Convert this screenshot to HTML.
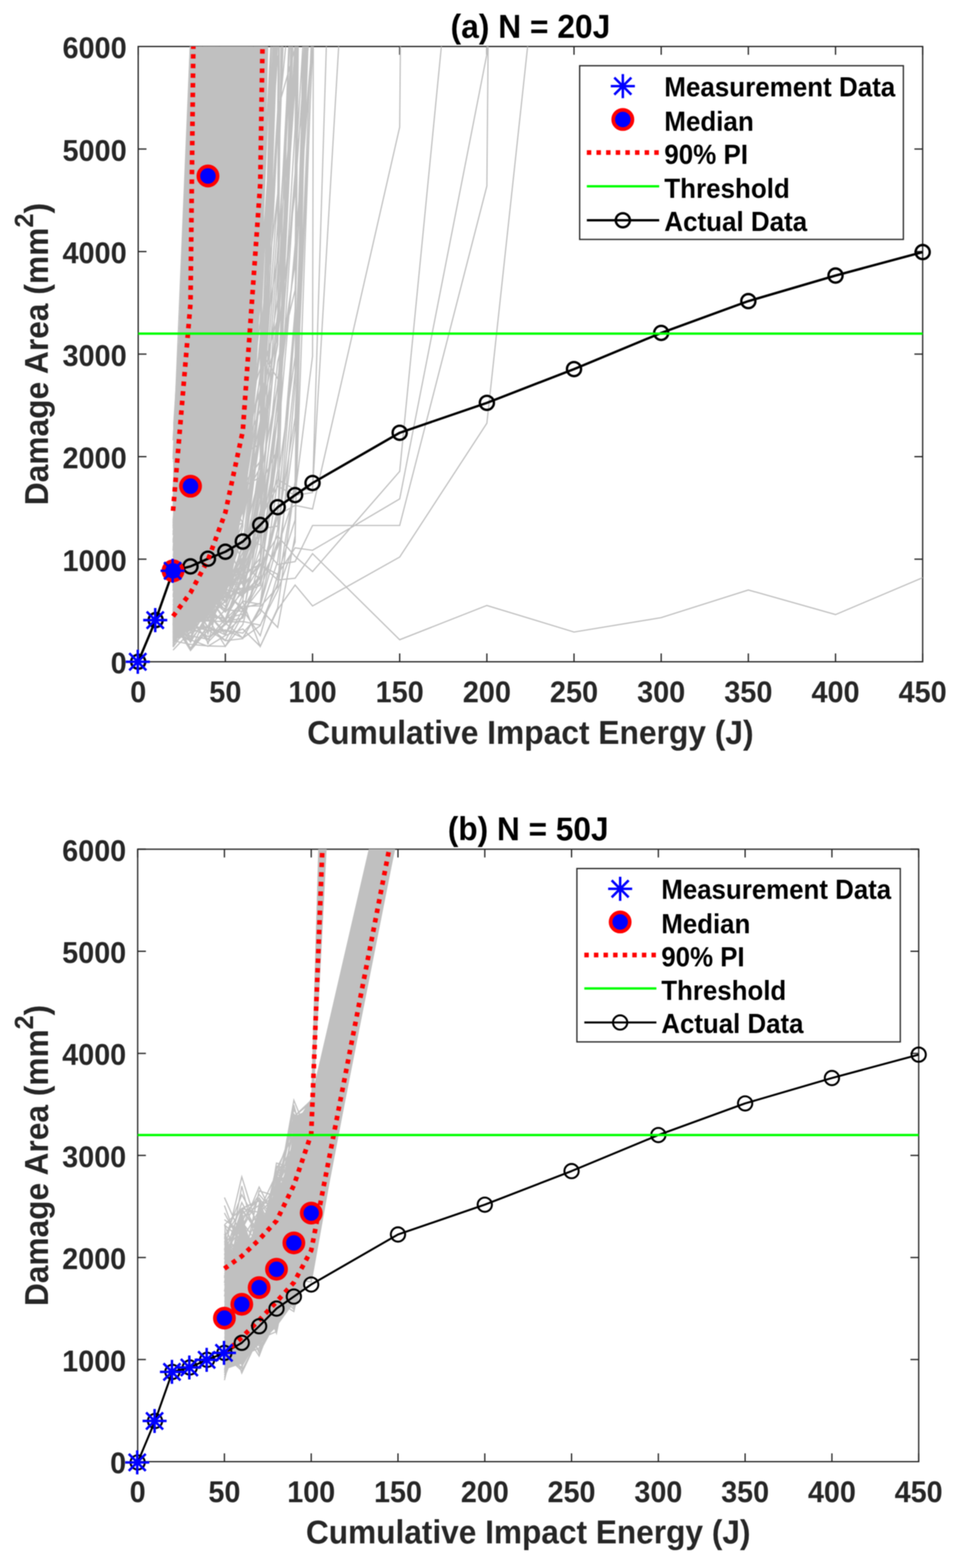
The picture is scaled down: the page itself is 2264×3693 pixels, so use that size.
<!DOCTYPE html>
<html lang="en">
<head>
<meta charset="utf-8">
<title>Damage Area vs Cumulative Impact Energy</title>
<style>
html,body{margin:0;padding:0;background:#fff;}
body{width:2264px;height:3693px;overflow:hidden;}
svg{display:block;filter:blur(1.15px);}
</style>
</head>
<body>
<svg width="2264" height="3693" viewBox="0 0 2264 3693" role="img" aria-label="Damage area versus cumulative impact energy, panels a and b">
<rect width="2264" height="3693" fill="#fff"/>
<clipPath id="clipA"><rect x="325.6" y="109.5" width="1848.1" height="1449.1"/></clipPath>
<rect x="325.6" y="109.5" width="1848.1" height="1449.1" fill="none" stroke="#262626" stroke-width="3"/>
<path d="M325.6 1558.6v-19.5M325.6 109.5v19.5M530.9 1558.6v-19.5M530.9 109.5v19.5M736.3 1558.6v-19.5M736.3 109.5v19.5M941.6 1558.6v-19.5M941.6 109.5v19.5M1147 1558.6v-19.5M1147 109.5v19.5M1352.3 1558.6v-19.5M1352.3 109.5v19.5M1557.7 1558.6v-19.5M1557.7 109.5v19.5M1763 1558.6v-19.5M1763 109.5v19.5M1968.4 1558.6v-19.5M1968.4 109.5v19.5M2173.7 1558.6v-19.5M2173.7 109.5v19.5M325.6 1558.6h19.5M2173.7 1558.6h-19.5M325.6 1317.1h19.5M2173.7 1317.1h-19.5M325.6 1075.6h19.5M2173.7 1075.6h-19.5M325.6 834h19.5M2173.7 834h-19.5M325.6 592.5h19.5M2173.7 592.5h-19.5M325.6 351h19.5M2173.7 351h-19.5M325.6 109.5h19.5M2173.7 109.5h-19.5" stroke="#262626" stroke-width="3" fill="none"/>
<g clip-path="url(#clipA)">
<path d="M408 1515L408 997L421 800L428.5 600L447 109.5L447 100L632 100L632 109.5L626 350L619 600L613 700L607 822L600 943L591 1065L574.8 1187L564 1239L558.8 1292L548.2 1345L532.4 1398L511.2 1419L490 1451L466 1464L447.7 1486L423.8 1494 Z" fill="#c0c0c0"/>
<path d="M407.7 1478.4L448.8 1289.1L489.9 1136.1L530.9 228.6L532.2 12.9M407.7 1461.9L448.8 1282L489.9 1089.1L530.9 543.2L534.7 12.9M407.7 1501.3L448.8 1266.3L489.9 1080.6L525.1 12.9M407.7 1411.1L448.8 1418.1L489.9 1315.5L530.9 1053.7L572 693L607.8 12.9M407.7 1407.3L448.8 1239.6L489.9 746.5L504.3 12.9M407.7 1341.9L448.8 1016.4L482.3 12.9M407.7 1406.1L448.8 1307.6L489.9 989.6L501.4 12.9M407.7 1459.2L448.8 1357.7L489.9 1397.2L530.9 1056.1L565.8 12.9M407.7 1327L448.8 1029.7L489.9 248.2L491.2 12.9M407.7 1271.8L448.8 933.7L474.2 12.9M407.7 1337L448.8 324.6L449.7 12.9M407.7 1278.5L448.8 1239L489.9 1292.6L530.9 1167.4L572 1230.9L613.1 935L654.2 794.1L695.2 453.2L726.8 12.9M407.7 1477.4L448.8 1385.1L489.9 1134.1L523 12.9M407.7 1467.3L448.8 1282.3L489.9 1194.6L530.9 189.6L531.6 12.9M407.7 1155.9L448.8 433.7L452.7 12.9M407.7 1481L448.8 1155.3L487.6 12.9M407.7 1474L448.8 1323.3L489.9 998.2L530.9 365.4L535.2 12.9M407.7 1519.6L448.8 1360.7L489.9 1093.1L530.6 12.9M407.7 1386.2L448.8 1305.7L489.9 1379.3L530.9 1247L572 1067L613.1 917.5L654.2 79M407.7 1463.2L448.8 1309.9L489.9 691.6L494.4 12.9M407.7 1393.7L448.8 1414.8L489.9 1332.3L530.9 1213.5L572 1113.1L613.1 808.3L654.2 457.2L670.3 12.9M407.7 1391.6L448.8 735.7L451.1 12.9M407.7 1382.8L448.8 1352.4L489.9 1262.3L530.9 1188.6L572 716.1L603.3 12.9M407.7 1269.6L448.8 1143L489.9 1098.6L530.9 19.5M407.7 1473L448.8 1317.9L489.9 1277.4L530.9 1075.6L572 57.2M407.7 1366.1L448.8 1222.2L489.3 12.9M407.7 1463L448.8 682.8L452.2 12.9M407.7 1419.7L448.8 1340.6L489.9 1324.2L530.9 1158.7L572 970.3L613.1 178.5L615 12.9M407.7 1459.2L448.8 1375.4L489.9 1150.5L530.9 240.1L532.2 12.9M407.7 1320.6L448.8 1048.3L474.2 12.9M407.7 1487.3L448.8 1475L489.9 1289.5L530.9 1302L572 1204.7L613.1 879.7L654.2 77M407.7 1498.2L448.8 1089.7L489.9 325.9L491.6 12.9M407.7 1443.3L448.8 1426.1L489.9 1426.3L530.9 1406.7L572 985L613.1 550.4L626.1 12.9M407.7 1314.4L448.8 1326.4L489.9 1330.5L530.9 1127.3L572 1061.7L613.1 966.3L654.2 704.6L691.7 12.9M407.7 1504.4L448.8 1329.4L489.9 1126.6L530.9 591L537.9 12.9M407.7 1506.4L448.8 1424.1L489.9 1387.8L530.9 1037.2L554 12.9M407.7 1387.9L448.8 1458.4L489.9 1311.7L530.9 1044.5L568.2 12.9M407.7 1509L448.8 1280.5L485.7 12.9M407.7 1477.7L448.8 1326.5L489.9 651.9L492.5 12.9M407.7 1399.4L448.8 1317.9L489.9 1113.9L530.9 1267.9L572 940.3L613.1 668.7L654.2 72.9M407.7 1474.2L448.8 1470.5L489.9 1218.3L530.9 557.9L536.7 12.9M407.7 1520.2L448.8 1276.9L489.9 1196.3L517.1 12.9M407.7 1476.3L448.8 1120.2L489.9 1008.9L530.9 760.3L550.7 12.9M407.7 1503L448.8 1339.1L489.9 1272.2L530.9 756.1L556.4 12.9M407.7 1375.6L448.8 1407L489.9 1458.7L530.9 1414.6L572 1300L613.1 1261.8L654.2 980.3L695.2 95.4M407.7 1321.7L448.8 1136.9L489.9 334.7L493 12.9M407.7 1176L448.8 841.9L475 12.9M407.7 1406.5L448.8 1360.8L489.9 1350.4L530.9 1153.3L572 1054.8L613.1 227.1L618 12.9M407.7 1491.6L448.8 1380.2L489.9 1378.5L530.9 1351.7L572 1150.9L613.1 814.8L654.2 297.6L658.4 12.9M407.7 1496.8L448.8 1221.6L489.9 931L530.9 236.2L532.6 12.9M407.7 1451.1L448.8 1467.8L489.9 976.6L502.4 12.9M407.7 1491.2L448.8 1119.1L489.9 274.2L491.1 12.9M407.7 1430.4L448.8 1331.6L489.9 1263.2L530.9 1229.6L572 833.6L602.9 12.9M407.7 1252.3L448.8 994.9L469.9 12.9M407.7 1504.3L448.8 1477.4L489.9 1324.7L530.9 1365.8L572 1334.8L613.1 1106.8L654.2 735.9L663.1 12.9M407.7 1459.7L448.8 1341.4L489.9 744.2L497 12.9M407.7 1462.1L448.8 1199.2L489.9 132.2L490.1 12.9M407.7 1079.2L448.8 795L466.1 12.9M407.7 1494.3L448.8 1310.9L489.9 1322.5L530.9 1167.3L572 799.6L583.7 12.9M407.7 1456.2L448.8 1414.8L489.9 1272.8L530.9 1330.6L572 1183.9L613.1 929.7L654.2 305.5L659.5 12.9M407.7 1483.3L448.8 1117.6L462.8 12.9M407.7 1515.3L448.8 1397.7L489.9 1301.7L530.9 1256.8L572 942.1L613.1 109.4M407.7 1286.6L448.8 1355L489.9 1256.6L530.9 938.2L572 800L613.1 52.6M407.7 1273.6L448.8 992.5L489.9 40.3M407.7 1383.2L448.8 1341.4L489.9 1409.9L530.9 1382L572 1300.6L613.1 1028.5L654.2 811.5L683.8 12.9M407.7 1485L448.8 1322.1L489.9 1211.9L530.9 812.1L543.8 12.9M407.7 1523.1L448.8 1284.8L487 12.9M407.7 1498.8L448.8 1457.4L489.9 1442.9L530.9 1376.9L572 1339.6L613.1 1144.1L654.2 1057.4L692.9 12.9M407.7 1240.4L448.8 331.8L449.5 12.9M407.7 1225.8L448.8 834.8L457.5 12.9M407.7 1348.1L448.8 1322.5L489.9 1094L530.9 958.9L572 313.2L575.7 12.9M407.7 1200.6L448.8 158.4L449.2 12.9M407.7 1492.4L448.8 1434.1L489.9 1251.8L530.9 480.6L533.3 12.9M407.7 1485.9L448.8 1417.5L489.9 1298.2L530.9 1169.1L561.7 12.9M407.7 1296.1L448.8 609.2L450.6 12.9M407.7 1391.8L448.8 1159.4L489.9 645.3L497.7 12.9M407.7 1075.7L448.8 1056.7L472.3 12.9M407.7 1403.5L448.8 1055.5L485.1 12.9M407.7 1486.7L448.8 1306.9L489.9 1258.3L530.9 1192.3L572 1018.9L613.1 487.6L624.3 12.9M407.7 1176.9L448.8 524.6L450.7 12.9M407.7 1331.5L448.8 553.5L451.8 12.9M407.7 1446.7L448.8 1309.7L489.9 1395.6L530.9 1238.6L572 1097.5L613.1 495L625.6 12.9M407.7 1351.7L448.8 1160.1L489.9 1216.8L530.9 1172.9L572 992.6L613.1 869L654.2 604.3L695.2 179.2L701.2 12.9M407.7 1433.8L448.8 1458L489.9 1258L530.9 1291.7L572 1068.3L613.1 1045.6L654.2 457.1L667.5 12.9M407.7 1522.6L448.8 1400.2L489.9 1126.8L513.8 12.9M407.7 1339.5L448.8 1366.5L489.9 1113L530.9 1020.5L572 739.5L612.9 12.9M407.7 1381.5L448.8 632.1L450.5 12.9M407.7 1196.5L448.8 1030.2L489.9 737.5L501.5 12.9M407.7 1232.2L448.8 635.9L450.4 12.9M407.7 1514.8L448.8 1292.5L489.9 707.2L497.8 12.9M407.7 1328.9L448.8 1294.1L489.9 1368.9L530.9 1241.5L572 1196.4L613.1 990.7L654.2 783.7L695.2 201.2L700 12.9M407.7 1510.6L448.8 1439.3L489.9 1449L530.9 1387.7L572 1399.9L613.1 1356.7L654.2 1063L690.5 12.9M407.7 1472.4L448.8 1505L489.9 1419.6L530.9 1372.6L572 1313.2L613.1 1251.6L654.2 946.2L695.2 609.1L702.7 12.9M407.7 1467L448.8 1330.5L489.9 1271.8L530.9 1152.3L572 530L580.7 12.9M407.7 1074.6L448.8 858.3L483.3 12.9M407.7 1081.8L448.8 320L450.6 12.9M407.7 1439.4L448.8 1239.7L489.9 1239.6L530.9 1101.8L572 889.1L605.2 12.9M407.7 1482L448.8 1402L489.9 1388.1L530.9 1159.4L572 165.9L572.7 12.9M407.7 1328L448.8 1074.1L489.9 739.8L502.5 12.9M407.7 1260.4L448.8 529.1L450.8 12.9M407.7 1310.9L448.8 1181.7L489.9 588.4L496.3 12.9M407.7 1421.9L448.8 1439.3L489.9 1418.4L530.9 1277L572 721.5L583.7 12.9M407.7 1474.9L448.8 1278.9L489.9 886.5L507.4 12.9M407.7 1457.4L448.8 1089.7L476.6 12.9M407.7 1477.4L448.8 1403L489.9 1374.3L530.9 1282.5L572 1146.4L613.1 1124.1L654.2 908.3L695.2 408.2L703.2 12.9M407.7 1489.7L448.8 1308L489.9 532.9L493.3 12.9M407.7 1080.3L448.8 95.8M407.7 1463.9L448.8 1291.7L489.9 637.5L498.1 12.9M407.7 1387.7L448.8 1357.8L489.9 1379.7L530.9 1220.8L572 645.8L586.9 12.9M407.7 1473.2L448.8 1345.2L489.9 605.5L496.7 12.9M407.7 1441.2L448.8 1319.3L489.9 1175.4L530.9 998.8L572 623.1L587.5 12.9M407.7 1472.7L448.8 1308.1L489.9 1274.4L530.9 944.4L571.5 12.9M407.7 1244.8L448.8 846.7L459.6 12.9M407.7 1306.5L448.8 1203.9L489.9 1224.4L530.9 1120.9L572 1110.4L613.1 889.8L654.2 750L695.2 103M407.7 1344.6L448.8 1224.1L489.9 1220.2L530.9 1042.3L572 803.2L609.4 12.9M407.7 1256.9L448.8 892.3L478.4 12.9M407.7 1426.4L448.8 1336.9L489.9 1272.3L530.9 1244.7L572 1020.4L613.1 190L614.9 12.9M407.7 1332.1L448.8 1197.9L489.9 1035.6L530.9 477L546.3 12.9M407.7 1328.2L448.8 1375.5L489.9 1105.2L530.9 817.9L563.6 12.9M407.7 1524.2L448.8 1465.7L489.9 1376.3L530.9 1330.1L572 692.3L581.4 12.9M407.7 1472.8L448.8 1382.4L489.9 1238.9L530.9 981L553.8 12.9M407.7 1490.5L448.8 1509.5L489.9 1260.6L530.9 768.7L549.9 12.9M407.7 1181.2L448.8 1026.7L478.1 12.9M407.7 1483.3L448.8 1280L489.9 1029L530.9 416.4L534.3 12.9M407.7 1350.2L448.8 1367.9L489.9 1299.8L530.9 1110.9L572 767.6L613.1 93.4M407.7 1476.7L448.8 1319.6L489.9 1102.9L504.6 12.9M407.7 1077.7L448.8 702.2L456.3 12.9M407.7 1407.2L448.8 1297.6L489.9 1140L530.9 1014.4L572 503L588 12.9M407.7 1457.3L448.8 1260.5L489.9 345.4L490.5 12.9M407.7 1474.4L448.8 1236.2L489.9 547.9L492.6 12.9M407.7 1087.3L448.8 1013.2L489.9 765.1L522.9 12.9M407.7 1278.1L448.8 842.7L458.1 12.9M407.7 1495.6L448.8 1360.7L489.9 1138.1L530.9 902.4L546.9 12.9M407.7 1441.6L448.8 1294L489.9 742.3L494.9 12.9M407.7 1462L448.8 1394.4L489.9 1290.5L530.9 681.7L534.8 12.9M407.7 1495.7L448.8 1110.9L462.5 12.9M407.7 1456.5L448.8 1442.8L489.9 1320.6L530.9 1243.6L572 861.6L612.3 12.9M407.7 1334.3L448.8 1031.2L489.9 314.6L493 12.9M407.7 1442.7L448.8 1458.7L489.9 1191.2L530.9 753.2L538.4 12.9M407.7 1481.2L448.8 1432.3L489.9 1339.3L530.9 469.6L533.7 12.9M407.7 1462.4L448.8 1363.3L489.9 1173.3L530.9 764.4L548 12.9M407.7 1437L448.8 1285.4L489.9 1197.9L530.9 968.3L572 619.7L587.8 12.9M407.7 1455.4L448.8 1450.3L489.9 1363.1L530.9 1332L572 1357.3L613.1 1245.8L654.2 851.7L695.2 683.3L728.9 12.9M407.7 1425.6L448.8 1246.1L489.9 408.4L491.3 12.9M407.7 1454.1L448.8 1324.6L489.9 525.6L491.9 12.9M407.7 1486L448.8 1335.2L489.9 790L497 12.9M407.7 1077.5L448.8 576.1L456.1 12.9M407.7 1442.6L448.8 1339.4L489.9 1323.7L530.9 1160.9L572 749.6L598.2 12.9M407.7 1460.7L448.8 1409.2L489.9 1249.1L530.9 1027.8L572 444.5L577.9 12.9M407.7 1469.2L448.8 1422.1L489.9 1297L530.9 1126.6L561.4 12.9M407.7 1297.7L448.8 1027.1L489.9 331.5L492.9 12.9M407.7 1487L448.8 1391.8L489.9 1259.1L530.9 1036.7L557.6 12.9M407.7 1037.1L448.8 395.3L452.1 12.9M407.7 1480.4L448.8 1332.2L489.9 1337.5L530.9 1183.6L572 729.3L587.1 12.9M407.7 1382.9L448.8 1283.7L489.9 1268.1L530.9 1180.7L572 1074.3L613.1 756.4L653 12.9M407.7 1434.3L448.8 1301.2L489.9 1237.2L530.9 1151.3L572 799.6L596.2 12.9M407.7 1472L448.8 121.8L448.9 12.9M407.7 1498.3L448.8 1406.7L489.9 1225.6L530.9 898.1L542 12.9M407.7 1483.6L448.8 1361.1L489.9 1306.6L530.9 1228.1L572 1179.8L613.1 1100.3L654.2 803.4L695.2 125L697.1 12.9M407.7 1416.5L448.8 1308.2L489.9 1195.1L530.9 1236.1L572 1003.1L613.1 463.7L624.4 12.9M407.7 1460L448.8 1365.2L489.9 1301.2L530.9 1026L552.2 12.9M407.7 1487.5L448.8 1234L489.9 158.2L490.3 12.9M407.7 1291.7L448.8 1243.4L489.9 1174L530.9 1019.7L572 809L613.1 330.7L622.1 12.9M407.7 1495.9L448.8 1190L489.4 12.9M407.7 1412.7L448.8 1338.8L489.9 1074.9L530.9 448.3L539 12.9M407.7 1328.9L448.8 1270.5L489.9 1338.3L530.9 1107.7L572 789.3L590.7 12.9M407.7 1382L448.8 1509.4L489.9 1370.7L530.9 1414.7L572 1333.5L613.1 1223.2L654.2 980L695.2 302.7L699.7 12.9M407.7 1462L448.8 1227.5L489.9 1236.7L530.9 562L539.3 12.9M407.7 1514L448.8 1438.1L489.9 1264.9L530.9 1234L572 1081.8L613.1 507.5L618.8 12.9M407.7 1488.5L448.8 1448.4L489.9 1007.1L528.5 12.9M407.7 1457.7L448.8 1481.7L489.9 1231.6L530.9 1033.3L560.1 12.9M407.7 1458.3L448.8 1160.7L489.9 1067L530.9 343.3L541.3 12.9M407.7 1462.7L448.8 1388.6L489.9 1297.7L530.9 1167.9L572 90.3M407.7 1378.8L448.8 1236.2L489.9 1074.2L530.9 83.5M407.7 1463.5L448.8 1369.4L489.9 935.1L512 12.9M407.7 1321.7L448.8 1146.3L489.9 543L498.2 12.9M407.7 1358L448.8 1268.3L489.9 805.8L508.9 12.9M407.7 1476L448.8 1236.8L489.9 921.6L503.8 12.9M407.7 1284.7L448.8 1262.2L489.9 1279.4L530.9 1086.8L572 1150.7L613.1 825.2L654.2 891.7L695.2 621.4L736.3 99.7M407.7 1236.2L448.8 1248.1L489.9 634L497.7 12.9M407.7 1500.3L448.8 1325.1L489.9 1140L530.9 974L561.2 12.9M407.7 1513.5L448.8 1380.2L489.9 1343.2L530.9 1306.3L572 588.4L576.9 12.9M407.7 1484.8L448.8 1324L483.3 12.9M407.7 1277L448.8 1120.7L489.9 147.1L490.5 12.9M407.7 1471.4L448.8 1351.1L489.9 1140.1L530.9 558.8L537.9 12.9M407.7 1260.9L448.8 1124.5L489.9 599.3L500.4 12.9M407.7 1480.5L448.8 1308.2L489.9 1002.5L503 12.9M407.7 1472.9L448.8 1408.3L489.9 1299.4L530.9 987.4L572 125.7L572.8 12.9M407.7 1201.7L448.8 786.4L454 12.9M407.7 1301.5L448.8 1262.6L489.9 943.5L530.9 864.7L572 735.1L594.2 12.9M407.7 1371.4L448.8 1343.4L489.9 1328.7L530.9 1256.7L572 1080.5L613.1 272.7L619.2 12.9M407.7 1497.1L448.8 1259.4L489.9 711.1L495 12.9M407.7 1467L448.8 1387L489.9 1204.2L530.9 797.4L543.7 12.9M407.7 1473L448.8 1297.2L489.9 837.5L529.6 12.9M407.7 1523.6L448.8 966.2L454.6 12.9M407.7 1053.2L448.8 1022.5L489.9 748.1L530.9 280.4L537.9 12.9M407.7 1361L448.8 1180.9L489.9 344L490.9 12.9M407.7 1451.2L448.8 1396.9L489.9 1479L530.9 1328.1L572 1019.4L613.1 927L654.2 261.6L657.2 12.9M407.7 1361.9L448.8 1362.5L489.9 1398.9L530.9 1177.6L572 1113.4L613.1 561.6L643.4 12.9M407.7 1361L448.8 1361.2L489.9 1216.7L530.9 922.8L572 510.9L613.1 118.3M407.7 1464.5L448.8 1463.9L489.9 1389L530.9 1429L572 1313.3L613.1 1123.2L615 12.9M407.7 1515.2L448.8 1463.1L489.9 1426.2L530.9 1433L572 1357.9L613.1 1079.4L640.5 12.9M407.7 1382.7L448.8 1375.8L489.9 1324.8L530.9 1310.1L572 1204.9L613.1 671.7L642.4 12.9M407.7 1460.1L448.8 1526.4L489.9 1475.3L530.9 1495.6L572 1414.5L613.1 1153.9L641.9 12.9M407.7 1512.8L448.8 1465.3L489.9 1462.2L530.9 1464.1L572 1348.4L613.1 1156.5L616.8 12.9M407.7 1506.6L448.8 1490.7L489.9 1475.3L530.9 1401.8L572 1240.4L613.1 128.5M407.7 1486.5L448.8 1469.1L489.9 1486.6L530.9 1386.8L572 1131.4L612.1 12.9M407.7 1423.4L448.8 1424.6L489.9 1476.2L530.9 1390.2L572 1134.7L609.9 12.9M407.7 1495.4L448.8 1439.7L489.9 1453.7L530.9 1416.3L572 1338.1L613.1 1015.5L645.9 12.9M407.7 1389.5L448.8 1364.2L489.9 1409.3L530.9 1179.4L572 906L613.1 447.5L616.3 12.9M407.7 1400.4L448.8 1407.3L489.9 1402.5L530.9 1390.7L572 1288.7L613.1 913.5L629.5 12.9M407.7 1446L448.8 1512.8L489.9 1445.8L530.9 1494.1L572 1401L613.1 1175.9L615.8 12.9M407.7 1441.4L448.8 1345.7L489.9 1344.4L530.9 1224.8L572 591.5L613.1 46.4M407.7 1515.3L448.8 1483L489.9 1430.8L530.9 1332.7L572 1094.1L613.1 28.2M407.7 1509.2L448.8 1517.6L489.9 1521.3L530.9 1522.4L572 1471L613.1 1315.3L648.1 12.9M407.7 1423.8L448.8 1445L489.9 1396.9L530.9 1465.6L572 1358L613.1 916L653.1 12.9M407.7 1402.4L448.8 1481L489.9 1475.3L530.9 1384.9L572 1323.5L613.1 927.8L647.9 12.9M407.7 1440.7L448.8 1531.2L489.9 1446.5L530.9 1488.5L572 1454L613.1 1218.7L654.1 12.9M407.7 1478.7L448.8 1406.3L489.9 1453.6L530.9 1456.5L572 1386.1L613.1 1212L654.2 757.4L658.5 12.9M407.7 1490.2L448.8 1497.7L489.9 1505.5L530.9 1457.2L572 1348.1L613.1 1249.4L654.2 47M407.7 1489.3L448.8 1506.9L489.9 1456.1L530.9 1522.4L572 1448.1L613.1 1256.6L648.6 12.9M407.7 1462.7L448.8 1442.1L489.9 1438.6L530.9 1392.6L572 1320.9L613.1 989.6L650 12.9M407.7 1422.3L448.8 1417.2L489.9 1392.6L530.9 1384.1L572 1313.6L613.1 1013.4L654.2 86.3M407.7 1376.9L448.8 1356.4L489.9 1385.6L530.9 1252.9L572 1231L613.1 702.4L654.2 130.6M407.7 1413.2L448.8 1448.8L489.9 1378.7L530.9 1333.4L572 1232.3L613.1 794.6L649.4 12.9M407.7 1356.1L448.8 1383.7L489.9 1375.4L530.9 1319.8L572 1143.7L613.1 1086.4L654.2 527.9L657.3 12.9M407.7 1421.9L448.8 1468.1L489.9 1400.9L530.9 1463.8L572 1456L613.1 1344.4L654.2 1108.3L691.9 12.9M407.7 1421.8L448.8 1440L489.9 1414.2L530.9 1371.6L572 1406.2L613.1 1294.2L654.2 937.1L693.2 12.9M407.7 1443.8L448.8 1417.7L489.9 1401.7L530.9 1369.5L572 1374L613.1 1257.1L654.2 1051.7L693.6 12.9M407.7 1473.4L448.8 1455.8L489.9 1512.4L530.9 1470.2L572 1415.7L613.1 1423.2L654.2 1246.5L687.7 12.9M407.7 1428.7L448.8 1415.1L489.9 1478.1L530.9 1436.1L572 1439.8L613.1 1387.9L654.2 1275.5L695.2 876.5L703.5 12.9M407.7 1414.5L448.8 1389.9L489.9 1401.3L530.9 1436.8L572 1339.4L613.1 1135.1L654.2 589.1L693.5 12.9M407.7 1367.4L448.8 1339.2L489.9 1383.7L530.9 1339.4L572 1229.8L613.1 1008.6L654.2 259.6L695.2 113.2M407.7 1446.5L448.8 1499.4L489.9 1432.9L530.9 1394.2L572 1436.6L613.1 1357.5L654.2 1201.2L695.2 768.9L700.6 12.9M407.7 1476.6L448.8 1483.7L489.9 1448.1L530.9 1456.6L572 1446.2L613.1 1368.7L654.2 973.9L695.2 130.7M407.7 1358.3L448.8 1403.1L489.9 1405.4L530.9 1406L572 1391.9L613.1 1235.5L654.2 640.1L687.3 12.9M407.7 1531.2L448.8 1487.5L489.9 1429.2L530.9 1471.3L572 1427.8L613.1 1426.9L654.2 1282.1L695.2 762.7L703.2 12.9M407.7 1459.3L448.8 1432.2L489.9 1404.4L530.9 1441.7L572 1393.7L613.1 1373.7L654.2 1037.9L683.5 12.9M407.7 1430.9L448.8 1471.5L489.9 1412.9L530.9 1396.1L572 1432.3L613.1 1421L654.2 1131.8L695.2 840.2L728 12.9M407.7 1512.4L448.8 1462.8L489.9 1505.7L530.9 1467.4L572 1502.8L613.1 1473.6L654.2 1374.6L695.2 909.1L729.3 12.9M407.7 1464.9L448.8 1531.7L489.9 1475.5L530.9 1508L572 1436.5L613.1 1497.1L654.2 1353.4L695.2 1224.7L736.3 91.6M407.7 1413.6L448.8 1385.6L489.9 1383.9L530.9 1387.9L572 1401.8L613.1 1359.3L654.2 1214.2L695.2 730.6L719.8 12.9M407.7 1461.3L448.8 1478.4L489.9 1499.1L530.9 1483.4L572 1502.2L613.1 1434.5L654.2 1477.6L695.2 1261.9L723.3 12.9M407.7 1390.5L448.8 1347.9L489.9 1356.6L530.9 1407.4L572 1326.5L613.1 1365.6L654.2 1289.4L695.2 1163.3L736.3 838.9L738.4 12.9M407.7 1465.7L448.8 1532L489.9 1483.7L530.9 1484.2L572 1491.3L613.1 1443.9L654.2 1322.3L695.2 1006.9L736.3 123.1M407.7 1423.5L448.8 1440.4L489.9 1437L530.9 1465.4L572 1463.7L613.1 1472.4L654.2 1391.2L695.2 1276.5L721.4 12.9M407.7 1307.6L448.8 1385.6L489.9 1378.6L530.9 1439.3L572 1338.9L613.1 1245.9L654.2 1238.9L695.2 983.8L736.3 32.7M407.7 1347.9L448.8 1365.6L489.9 1336.3L530.9 1419L572 1368.8L613.1 1202.7L654.2 904.1L695.2 407.4L736.3 14.5M407.7 1410.4L448.8 1392.9L489.9 1406.2L530.9 1395.8L572 1384.9L613.1 1322.4L654.2 1029.4L695.2 413.3L719.1 12.9M407.7 1470.3L448.8 1506.8L489.9 1522.2L530.9 1496.7L572 1481.5L613.1 1522.4L654.2 1431.8L695.2 1140.8L718.5 12.9M407.7 1330.3L448.8 1364.5L489.9 1397.2L530.9 1364.5L572 1362.8L613.1 1314.8L654.2 1040.3L695.2 578.4L736.3 89.7M407.7 1454L448.8 1477.6L489.9 1483.6L530.9 1509L572 1504.2L613.1 1429.1L654.2 1382.6L695.2 1134.4L714.9 12.9M407.7 1411.8L448.8 1392.2L489.9 1386.5L530.9 1417.3L572 1277.7L613.1 1113.1L654.2 302.8L682.5 12.9M407.7 1443L448.8 1402L489.9 1492.9L530.9 1335.1L572 1396.3L613.1 1378.5L654.2 1213.5L695.2 1190.2L736.3 1198.7L941.6 299.3L944.2 12.9M407.7 1330.2L448.8 1433.2L489.9 1356.2L530.9 1344L572 1402.1L613.1 1330.6L654.2 1262.4L695.2 1310.4L736.3 1346.1L941.6 1110.1L1049.3 12.9M407.7 1456.2L448.8 1428L489.9 1402.7L530.9 1254.3L572 1377.7L613.1 1330.8L654.2 1352.9L695.2 1290.2L736.3 1296.1L941.6 1175.1L1147 127.9L1148 12.9M407.7 1223.1L448.8 1351.7L489.9 1517.5L530.9 1348.3L572 1273L613.1 1282.3L654.2 1329.4L695.2 1322.6L736.3 1237.6L941.6 1237.6L1147 438.2L1150.8 12.9M407.7 1444.3L448.8 1409.9L489.9 1403.1L530.9 1459.2L572 1417.7L613.1 1522.6L654.2 1435.4L695.2 1377.8L736.3 1427.2L941.6 1312L1147 996.8L1253.5 12.9M407.7 1433.6L448.8 1309L489.9 1460.3L530.9 1354.5L572 1352.4L613.1 1328.4L654.2 1366L695.2 1361.9L736.3 1304L941.6 1506.7L1147 1426L1352.3 1488.6L1557.7 1454.7L1763 1389.5L1968.4 1447.5L2173.7 1360.6M407.7 1447.5L448.8 1327.5L489.9 1341.5L530.9 1215.2L572 1328.7L613.1 1221.6L654.2 1145.1L695.2 1166.8L736.3 1160.1L771.8 12.9M407.7 1465.5L448.8 1261.9L489.9 1443.6L530.9 1384.2L572 1262L613.1 1227.2L654.2 1129.4L695.2 1153.1L736.3 1152.9L803.6 12.9" fill="none" stroke="#c0c0c0" stroke-width="2.9" stroke-linejoin="miter"/>
</g>
<path d="M325.6 1558.6L366.7 1460.5L407.7 1344.4L448.8 1334L489.9 1315.9L530.9 1299.5L572 1275.5L613.1 1236.4L654.2 1194.6L695.2 1166.1L736.3 1137.6L941.6 1019.3L1147 948.8L1352.3 869.3L1557.7 784.1L1763 709.2L1968.4 649L2173.7 593.7" stroke="#000" stroke-width="5.6" fill="none" stroke-linejoin="round"/>
<g clip-path="url(#clipA)">
<path d="M407.7 1203.1L448.8 713.3L489.9 -3030.2" stroke="#ff0000" stroke-width="11" stroke-dasharray="10.5 12.2" fill="none"/>
<path d="M407.7 1451.4L448.8 1395.8L489.9 1319L530.9 1207.2L572 1015.2L613.1 433.1L654.2 -2064.2" stroke="#ff0000" stroke-width="11" stroke-dasharray="10.5 12.2" fill="none"/>
</g>
<circle cx="325.6" cy="1558.6" r="16.6" fill="none" stroke="#000" stroke-width="5.6"/>
<circle cx="366.7" cy="1460.5" r="16.6" fill="none" stroke="#000" stroke-width="5.6"/>
<circle cx="407.7" cy="1344.4" r="16.6" fill="none" stroke="#000" stroke-width="5.6"/>
<circle cx="448.8" cy="1334" r="16.6" fill="none" stroke="#000" stroke-width="5.6"/>
<circle cx="489.9" cy="1315.9" r="16.6" fill="none" stroke="#000" stroke-width="5.6"/>
<circle cx="530.9" cy="1299.5" r="16.6" fill="none" stroke="#000" stroke-width="5.6"/>
<circle cx="572" cy="1275.5" r="16.6" fill="none" stroke="#000" stroke-width="5.6"/>
<circle cx="613.1" cy="1236.4" r="16.6" fill="none" stroke="#000" stroke-width="5.6"/>
<circle cx="654.2" cy="1194.6" r="16.6" fill="none" stroke="#000" stroke-width="5.6"/>
<circle cx="695.2" cy="1166.1" r="16.6" fill="none" stroke="#000" stroke-width="5.6"/>
<circle cx="736.3" cy="1137.6" r="16.6" fill="none" stroke="#000" stroke-width="5.6"/>
<circle cx="941.6" cy="1019.3" r="16.6" fill="none" stroke="#000" stroke-width="5.6"/>
<circle cx="1147" cy="948.8" r="16.6" fill="none" stroke="#000" stroke-width="5.6"/>
<circle cx="1352.3" cy="869.3" r="16.6" fill="none" stroke="#000" stroke-width="5.6"/>
<circle cx="1557.7" cy="784.1" r="16.6" fill="none" stroke="#000" stroke-width="5.6"/>
<circle cx="1763" cy="709.2" r="16.6" fill="none" stroke="#000" stroke-width="5.6"/>
<circle cx="1968.4" cy="649" r="16.6" fill="none" stroke="#000" stroke-width="5.6"/>
<circle cx="2173.7" cy="593.7" r="16.6" fill="none" stroke="#000" stroke-width="5.6"/>
<path d="M325.6 785.7H2173.7" stroke="#00ff00" stroke-width="5.5"/>
<circle cx="407.7" cy="1344.4" r="22.6" fill="#0000ff" stroke="#ff0000" stroke-width="8.7"/>
<circle cx="448.8" cy="1145.1" r="22.6" fill="#0000ff" stroke="#ff0000" stroke-width="8.7"/>
<circle cx="489.9" cy="414.5" r="22.6" fill="#0000ff" stroke="#ff0000" stroke-width="8.7"/>
<path d="M296.2 1558.6L353 1558.6M304.5 1538.5L344.7 1578.7M324.6 1530.2L324.6 1587M344.7 1538.5L304.5 1578.7" stroke="#0000ff" stroke-width="5.8" fill="none"/>
<path d="M337.3 1460.5L394.1 1460.5M345.6 1440.5L385.8 1480.6M365.7 1432.1L365.7 1488.9M385.8 1440.5L345.6 1480.6" stroke="#0000ff" stroke-width="5.8" fill="none"/>
<path d="M378.3 1344.4L435.1 1344.4M386.7 1324.3L426.8 1364.5M406.7 1316L406.7 1372.8M426.8 1324.3L386.7 1364.5" stroke="#0000ff" stroke-width="5.8" fill="none"/>
<g font-family='"Liberation Sans", "DejaVu Sans", sans-serif' font-weight="bold" fill="#262626">
<text transform="translate(325.6 1654.2) scale(1 1.03)" font-size="68" text-anchor="middle">0</text>
<text transform="translate(530.9 1654.2) scale(1 1.03)" font-size="68" text-anchor="middle">50</text>
<text transform="translate(736.3 1654.2) scale(1 1.03)" font-size="68" text-anchor="middle">100</text>
<text transform="translate(941.6 1654.2) scale(1 1.03)" font-size="68" text-anchor="middle">150</text>
<text transform="translate(1147 1654.2) scale(1 1.03)" font-size="68" text-anchor="middle">200</text>
<text transform="translate(1352.3 1654.2) scale(1 1.03)" font-size="68" text-anchor="middle">250</text>
<text transform="translate(1557.7 1654.2) scale(1 1.03)" font-size="68" text-anchor="middle">300</text>
<text transform="translate(1763 1654.2) scale(1 1.03)" font-size="68" text-anchor="middle">350</text>
<text transform="translate(1968.4 1654.2) scale(1 1.03)" font-size="68" text-anchor="middle">400</text>
<text transform="translate(2173.7 1654.2) scale(1 1.03)" font-size="68" text-anchor="middle">450</text>
<text transform="translate(298.5 1586.1) scale(1 1.03)" font-size="68" text-anchor="end">0</text>
<text transform="translate(298.5 1344.6) scale(1 1.03)" font-size="68" text-anchor="end">1000</text>
<text transform="translate(298.5 1103.1) scale(1 1.03)" font-size="68" text-anchor="end">2000</text>
<text transform="translate(298.5 861.5) scale(1 1.03)" font-size="68" text-anchor="end">3000</text>
<text transform="translate(298.5 620) scale(1 1.03)" font-size="68" text-anchor="end">4000</text>
<text transform="translate(298.5 378.5) scale(1 1.03)" font-size="68" text-anchor="end">5000</text>
<text transform="translate(298.5 137) scale(1 1.03)" font-size="68" text-anchor="end">6000</text>
<text transform="translate(1249.6 1752.1) scale(1 1.05)" font-size="74.8" text-anchor="middle">Cumulative Impact Energy (J)</text>
<text transform="translate(113 834) rotate(-90) scale(1 1.05)" font-size="74.8" text-anchor="middle">Damage Area (mm<tspan font-size="59.8" dy="-33.7">2</tspan><tspan dy="33.7">)</tspan></text>
<text transform="translate(1249.6 88.5) scale(1 1.05)" font-size="74.8" text-anchor="middle" fill="#000">(a) N = 20J</text>
</g>
<rect x="1365.6" y="154.8" width="762.6" height="409.1" fill="#fff" stroke="#262626" stroke-width="3"/>
<path d="M1438.9 202.8L1495.7 202.8M1447.2 182.7L1487.4 222.9M1467.3 174.4L1467.3 231.2M1487.4 182.7L1447.2 222.9" stroke="#0000ff" stroke-width="5.8" fill="none"/>
<circle cx="1467.3" cy="281.4" r="22.6" fill="#0000ff" stroke="#ff0000" stroke-width="8.7"/>
<path d="M1382.5 359.2H1553" stroke="#ff0000" stroke-width="11" stroke-dasharray="10.5 12.2"/>
<path d="M1382.5 438.7H1553" stroke="#00ff00" stroke-width="5.5"/>
<path d="M1382.5 518.8H1553" stroke="#000" stroke-width="5.6"/>
<circle cx="1467.3" cy="518.8" r="16.6" fill="none" stroke="#000" stroke-width="5.6"/>
<g font-family='"Liberation Sans", "DejaVu Sans", sans-serif' font-weight="bold" fill="#000" font-size="61.2">
<text transform="translate(1565 226.8) scale(1 1.05)">Measurement Data</text>
<text transform="translate(1565 307.9) scale(1 1.05)">Median</text>
<text transform="translate(1565 386.1) scale(1 1.05)">90% PI</text>
<text transform="translate(1565 465.6) scale(1 1.05)">Threshold</text>
<text transform="translate(1565 543.7) scale(1 1.05)">Actual Data</text>
</g>
<clipPath id="clipB"><rect x="324.3" y="2000.1" width="1840" height="1442.4"/></clipPath>
<rect x="324.3" y="2000.1" width="1840" height="1442.4" fill="none" stroke="#262626" stroke-width="3"/>
<path d="M324.3 3442.5v-19.4M324.3 2000.1v19.4M528.7 3442.5v-19.4M528.7 2000.1v19.4M733.2 3442.5v-19.4M733.2 2000.1v19.4M937.6 3442.5v-19.4M937.6 2000.1v19.4M1142.1 3442.5v-19.4M1142.1 2000.1v19.4M1346.5 3442.5v-19.4M1346.5 2000.1v19.4M1551 3442.5v-19.4M1551 2000.1v19.4M1755.4 3442.5v-19.4M1755.4 2000.1v19.4M1959.9 3442.5v-19.4M1959.9 2000.1v19.4M2164.3 3442.5v-19.4M2164.3 2000.1v19.4M324.3 3442.5h19.4M2164.3 3442.5h-19.4M324.3 3202.1h19.4M2164.3 3202.1h-19.4M324.3 2961.7h19.4M2164.3 2961.7h-19.4M324.3 2721.3h19.4M2164.3 2721.3h-19.4M324.3 2480.9h19.4M2164.3 2480.9h-19.4M324.3 2240.5h19.4M2164.3 2240.5h-19.4M324.3 2000.1h19.4M2164.3 2000.1h-19.4" stroke="#262626" stroke-width="3" fill="none"/>
<g clip-path="url(#clipB)">
<path d="M528.7 2884.8L536.9 2925.6L549.2 2959.3L561.5 2911.2L569.6 2846.3L577.8 2887.2L590.1 2923.2L602.3 2875.2L610.5 2827.1L620.7 2858.3L631 2880L643.2 2815.1L651.4 2764.6L671.9 2803L684.1 2716.5L692.3 2629.9L712.7 2620.3L733.2 2586.7L937.6 1700.8L937.6 1965L733.2 2997.8L692.3 3068.7L651.4 3125.2L610.5 3166L569.6 3211.7L528.7 3226.1 Z" fill="#c0c0c0"/>
<path d="M733.2 2702.1L733.2 2577.1L937.6 -4610.9L937.6 -1245.3 Z" fill="#c0c0c0"/>
<path d="M528.7 2820.3L569.6 2912.4L610.5 2942.1L651.4 2856.8L692.3 2678.5L733.2 2635.9L937.6 1907.2M528.7 2839.2L569.6 2949.5L610.5 2975.8L651.4 2864.2L692.3 2719.2L733.2 2731.3L937.6 1824.2M528.7 2856.7L569.6 2933.1L610.5 2946.2L651.4 2870L692.3 2780.1L733.2 2667.3L937.6 1918.1M528.7 2872.6L569.6 2902.4L610.5 2940.1L651.4 2896.4L692.3 2762.7L733.2 2629.7L937.6 1806.5M528.7 3250.7L569.6 3087L610.5 3110.6L651.4 3105.3L692.3 2951L733.2 2903.5L937.6 1923.5M528.7 3244.5L569.6 3139.3L610.5 3124.6L651.4 3078L692.3 2983.6L733.2 2856.8L937.6 1912.9M528.7 3238.8L569.6 3141.3L610.5 3132.8L651.4 3090.4L692.3 2974.2L733.2 2976.2L937.6 1898.7M528.7 3233.6L569.6 3100.7L610.5 3070.2L651.4 3023.5L692.3 2997.6L733.2 2886.5L937.6 1860.8M528.7 3229.2L569.6 3142.6L610.5 3151.3L651.4 3084.7L692.3 2897.9L733.2 2954L937.6 1846.8M528.7 2944.5L569.6 2771.8L610.5 2902.8L651.4 2917.7L692.3 2815.3L733.2 2743.6L937.6 1930.4M528.7 3021.6L569.6 2793.5L610.5 2955.4L651.4 2796.4L692.3 2713.7L733.2 2690.8L937.6 1894.9M528.7 2918.2L569.6 2813.9L610.5 2886.1L651.4 2861L692.3 2687L733.2 2659.3L937.6 1754.3M528.7 2956.2L569.6 2832.2L610.5 2908.4L651.4 2899.9L692.3 2795.4L733.2 2662.3L937.6 1741.7M528.7 3108.9L569.6 3233.8L610.5 3147.7L651.4 3051L692.3 2905.2L733.2 2868L937.6 1882M528.7 3191L569.6 3228.3L610.5 3149.8L651.4 2995.7L692.3 2953.2L733.2 2967.5L937.6 1955.2M528.7 3192.2L569.6 3223.1L610.5 3075.4L651.4 3052.3L692.3 3014.1L733.2 2888.9L937.6 1885.5M528.7 3210.2L569.6 3218.4L610.5 3148.6L651.4 2986.5L692.3 2969.7L733.2 2860.3L937.6 1917.1M528.7 3129.5L569.6 3214.4L610.5 3115.4L651.4 3109.1L692.3 2915.8L733.2 2944.7L937.6 1935.5M528.7 2948.2L569.6 2893.9L610.5 2795.8L651.4 2877.6L692.3 2706.2L733.2 2752.8L937.6 1861.2M528.7 2924.6L569.6 2989.4L610.5 2804.9L651.4 2817.4L692.3 2665.4L733.2 2717.5L937.6 1900M528.7 2931L569.6 2876.7L610.5 2813.5L651.4 2860.7L692.3 2779.5L733.2 2645.6L937.6 1932.1M528.7 3010.4L569.6 2895.2L610.5 2821.2L651.4 2883.7L692.3 2780.8L733.2 2707.8L937.6 1931.3M528.7 3110.7L569.6 3130.2L610.5 3193.9L651.4 3086.3L692.3 2899L733.2 2873.7L937.6 1793M528.7 3128.4L569.6 3087.7L610.5 3186.9L651.4 3110.3L692.3 2936.1L733.2 2942.6L937.6 1935.9M528.7 3092.5L569.6 3134.6L610.5 3180.4L651.4 3107.8L692.3 2980.1L733.2 2980L937.6 1883.7M528.7 3210.4L569.6 3193.8L610.5 3174.5L651.4 3107.6L692.3 3029.3L733.2 2922.3L937.6 1858.9M528.7 3138.8L569.6 3152.6L610.5 3169.5L651.4 3096.4L692.3 3014L733.2 2866.3L937.6 1923.8M528.7 3006.9L569.6 2944.2L610.5 2979.5L651.4 2739.3L692.3 2750.4L733.2 2749.2L937.6 1780M528.7 2963.4L569.6 2914.3L610.5 2929.3L651.4 2746.7L692.3 2754.1L733.2 2716.9L937.6 1923M528.7 3008.8L569.6 2897.6L610.5 2945.6L651.4 2753.6L692.3 2671.3L733.2 2731.8L937.6 1800.1M528.7 2964.8L569.6 2925.8L610.5 2974.2L651.4 2759.8L692.3 2826.7L733.2 2736.2L937.6 1938.7M528.7 3181.1L569.6 3067.2L610.5 3034.2L651.4 3139.8L692.3 2937.3L733.2 2892L937.6 1809.5M528.7 3196.9L569.6 3089.4L610.5 3153.8L651.4 3136.1L692.3 2947.2L733.2 2920.8L937.6 1881M528.7 3118.1L569.6 3188.7L610.5 3093.8L651.4 3132.7L692.3 2905.3L733.2 2955.6L937.6 1801M528.7 3174.5L569.6 3196.5L610.5 3067.2L651.4 3129.6L692.3 2937.3L733.2 2916L937.6 1888.8M528.7 3181.6L569.6 3079.3L610.5 3073.1L651.4 3127L692.3 2910.6L733.2 2951L937.6 1808.5M528.7 2972.7L569.6 2931.9L610.5 2964.8L651.4 2822.4L692.3 2591.5L733.2 2691.9L937.6 1936.2M528.7 2959.4L569.6 2942.5L610.5 2892.7L651.4 2818.5L692.3 2602.7L733.2 2761.3L937.6 1827.2M528.7 2954L569.6 2935.3L610.5 2907.8L651.4 2807.8L692.3 2613.2L733.2 2691.7L937.6 1932.7M528.7 2982.4L569.6 2996.6L610.5 2961.9L651.4 2926.6L692.3 2622.7L733.2 2740.9L937.6 1828.6M528.7 3112.4L569.6 3136.8L610.5 3044.4L651.4 3063.8L692.3 3088.9L733.2 2904.3L937.6 1915.3M528.7 3097.7L569.6 3097.5L610.5 3140.5L651.4 3044.3L692.3 3083.8L733.2 2982.1L937.6 1830.5M528.7 3214.2L569.6 3100.7L610.5 3085.4L651.4 3017.7L692.3 3079.1L733.2 2844.6L937.6 1860.5M528.7 3212.7L569.6 3127.6L610.5 3105.2L651.4 2983.2L692.3 3074.8L733.2 2968.3L937.6 1942.3M528.7 3194.3L569.6 3103.6L610.5 3089.2L651.4 3044.7L692.3 3071.2L733.2 2988.6L937.6 1783.9M528.7 2932L569.6 2931.2L610.5 2954.3L651.4 2800.7L692.3 2756.7L733.2 2678.7L937.6 1881M528.7 2993.6L569.6 2955.9L610.5 2976.7L651.4 2836.4L692.3 2799L733.2 2681.2L937.6 1801M528.7 3000.5L569.6 2970.2L610.5 2882.3L651.4 2873.6L692.3 2802L733.2 2634.5L937.6 1760.2M528.7 3000.5L569.6 2957.7L610.5 2853.6L651.4 2867L692.3 2708L733.2 2710.6L937.6 1796.4M528.7 3157L569.6 3192.7L610.5 3112.4L651.4 3050.7L692.3 3012.6L733.2 3019.4L937.6 1874.9M528.7 3150.8L569.6 3110.9L610.5 3063.3L651.4 3017.9L692.3 2989.2L733.2 3013.9L937.6 1898.6M528.7 3123.6L569.6 3066.4L610.5 3040.1L651.4 3042.7L692.3 3009L733.2 3008.9L937.6 1869M528.7 3175L569.6 3141.2L610.5 3148.7L651.4 3078L692.3 3035.7L733.2 3004.3L937.6 1935.7M528.7 3215.6L569.6 3101.5L610.5 3113.6L651.4 3048.6L692.3 3049.7L733.2 3000.4L937.6 1854.9M528.7 2941.3L569.6 2877L610.5 2933.1L651.4 2764.6L692.3 2889.1L733.2 2641.7L937.6 1952.8M528.7 2974L569.6 2976.5L610.5 2927.3L651.4 2905.5L692.3 2634.7L733.2 2611.7L937.6 1956.9M528.7 3006L569.6 2925.1L610.5 2924.1L651.4 2766L692.3 2742.3L733.2 2660.8L937.6 1959.2M528.7 3041.6L569.6 3056L610.5 2927.7L651.4 2988.9L692.3 2801.1L733.2 2911.9L937.6 1788.5M528.7 3053.3L569.6 2859.7L610.5 2827.1L651.4 2934.1L692.3 2698L733.2 2736.3L937.6 1923.3M528.7 3020.1L569.6 2941.9L610.5 2923.2L651.4 2764.6L692.3 2722.3L733.2 2660.8L937.6 1902.5M528.7 2884.8L569.6 2846.3L610.5 2910.6L651.4 2797.4L692.3 2629.9L733.2 2640.7L937.6 1823.5M528.7 2884.8L569.6 2919.7L610.5 2851.6L651.4 2764.6L692.3 2650L733.2 2624.4L937.6 1829.8M528.7 3104.7L569.6 3202.6L610.5 3042.4L651.4 3011.5L692.3 2903.7L733.2 2882.3L937.6 1964.3M528.7 3129.3L569.6 3038.5L610.5 2925.2L651.4 3015.6L692.3 2927.8L733.2 2741.9L937.6 1745.4M528.7 3002.3L569.6 3050.7L610.5 2853.9L651.4 2789L692.3 2751.2L733.2 2591.5L937.6 1964.9M528.7 3103L569.6 2994.8L610.5 3080.2L651.4 2995.6L692.3 2712.6L733.2 2807.1L937.6 1838.1M528.7 2974.2L569.6 3004.6L610.5 2912.9L651.4 2927.1L692.3 2881.8L733.2 2747.4L937.6 1777.5M528.7 2884.8L569.6 2985.5L610.5 2910.6L651.4 2878.3L692.3 2697L733.2 2712.1L937.6 1905.9M528.7 2979.4L569.6 3155.2L610.5 2949.7L651.4 2921.5L692.3 2714.7L733.2 2778.6L937.6 1831.9M528.7 3064.2L569.6 3079.4L610.5 3049.5L651.4 2926.6L692.3 2832.2L733.2 2861.1L937.6 1756.2M528.7 3024.5L569.6 3087.8L610.5 2956.3L651.4 2986.6L692.3 2925.7L733.2 2727.1L937.6 1840.3M528.7 3067L569.6 3062.8L610.5 3053.2L651.4 2962.1L692.3 2689.8L733.2 2713.1L937.6 1916.6M528.7 3226.1L569.6 3085.3L610.5 3166L651.4 3077.9L692.3 3044.1L733.2 2997.8L937.6 1809.4M528.7 2914.5L569.6 2846.3L610.5 2828.4L651.4 2841.4L692.3 2713.6L733.2 2710.6L937.6 1903.6M528.7 2922L569.6 2962.8L610.5 2982.7L651.4 2861.8L692.3 2802.5L733.2 2591.5L937.6 1739.7M528.7 3096.3L569.6 2910L610.5 2923.3L651.4 2877.5L692.3 2836.9L733.2 2781.6L937.6 1847.6M528.7 2953L569.6 2914.7L610.5 2928.2L651.4 2764.6L692.3 2698.4L733.2 2591.5L937.6 1868.4M528.7 3089.8L569.6 3101.2L610.5 2888.8L651.4 3027.9L692.3 2947.3L733.2 2820.2L937.6 1797.2M528.7 3206.5L569.6 3146.4L610.5 3022.4L651.4 3121.2L692.3 2962.2L733.2 2878.2L937.6 1908.9M528.7 3094.5L569.6 3134.3L610.5 3128.3L651.4 3012L692.3 2996.9L733.2 2921.6L937.6 1917M528.7 3113.5L569.6 3069.7L610.5 2982.1L651.4 3094.9L692.3 2969.6L733.2 2953.6L937.6 1959.3M528.7 3088.4L569.6 3134L610.5 3078.1L651.4 3125.2L692.3 2984.2L733.2 2938.1L937.6 1952.1M528.7 3155.6L569.6 3147.3L610.5 3166L651.4 3020L692.3 3066.7L733.2 2882.4L937.6 1963.8M528.7 2939.5L569.6 2965.1L610.5 2990L651.4 3004.6L692.3 2756.2L733.2 2881.6L937.6 1844.2M528.7 3088.2L569.6 2967.6L610.5 2942.4L651.4 2790.6L692.3 2889.2L733.2 2734.8L937.6 1931.6M528.7 2965.5L569.6 2851.1L610.5 2899.6L651.4 2787.4L692.3 2791.3L733.2 2680.1L937.6 1843.5M528.7 3079.5L569.6 2956.7L610.5 2948.8L651.4 2821.5L692.3 2706.2L733.2 2646.5L937.6 1920.1M528.7 2961.3L569.6 2943.7L610.5 2947.3L651.4 2764.6L692.3 2794.4L733.2 2790.9L937.6 1758.1M528.7 2974.3L569.6 2938L610.5 3035.9L651.4 2792.9L692.3 2779.6L733.2 2715.5L937.6 1936.7M528.7 3041.4L569.6 2846.3L610.5 2827.1L651.4 2892.9L692.3 2629.9L733.2 2596.5L937.6 1853.7M528.7 2906.3L569.6 3009.9L610.5 2858.5L651.4 2935.3L692.3 2673.7L733.2 2738.1L937.6 1948.5M528.7 2989L569.6 2846.3L610.5 2855.3L651.4 2818L692.3 2790.1L733.2 2701.6L937.6 1883.5M528.7 2966.2L569.6 2867.1L610.5 2838.5L651.4 2818.4L692.3 2629.9L733.2 2591.5L937.6 1800.6M528.7 3099.2L569.6 3211.7L610.5 3125.4L651.4 2996.9L692.3 2945.6L733.2 2843.8L937.6 1762.6" fill="none" stroke="#c0c0c0" stroke-width="2.9" stroke-linejoin="miter"/>
</g>
<path d="M324.3 3444.3L365.2 3346.7L406.1 3231.1L447 3220.7L487.9 3202.7L528.7 3186.4L569.6 3162.6L610.5 3123.6L651.4 3082L692.3 3053.7L733.2 3025.3L937.6 2907.5L1142.1 2837.3L1346.5 2758.2L1551 2673.3L1755.4 2598.8L1959.9 2539L2164.3 2483.9" stroke="#000" stroke-width="4.7" fill="none" stroke-linejoin="round"/>
<g clip-path="url(#clipB)">
<path d="M528.7 2987.9L569.6 2958.6L610.5 2919.6L651.4 2875.2L692.3 2791.7L733.2 2671.1L937.6 -2567.5" stroke="#ff0000" stroke-width="11" stroke-dasharray="10.5 12.1" fill="none"/>
<path d="M528.7 3188.4L569.6 3149.9L610.5 3109.3L651.4 3066L692.3 3020.6L733.2 2944.9L937.6 1893.6" stroke="#ff0000" stroke-width="11" stroke-dasharray="10.5 12.1" fill="none"/>
</g>
<circle cx="324.3" cy="3444.3" r="16.8" fill="none" stroke="#000" stroke-width="4.7"/>
<circle cx="365.2" cy="3346.7" r="16.8" fill="none" stroke="#000" stroke-width="4.7"/>
<circle cx="406.1" cy="3231.1" r="16.8" fill="none" stroke="#000" stroke-width="4.7"/>
<circle cx="447" cy="3220.7" r="16.8" fill="none" stroke="#000" stroke-width="4.7"/>
<circle cx="487.9" cy="3202.7" r="16.8" fill="none" stroke="#000" stroke-width="4.7"/>
<circle cx="528.7" cy="3186.4" r="16.8" fill="none" stroke="#000" stroke-width="4.7"/>
<circle cx="569.6" cy="3162.6" r="16.8" fill="none" stroke="#000" stroke-width="4.7"/>
<circle cx="610.5" cy="3123.6" r="16.8" fill="none" stroke="#000" stroke-width="4.7"/>
<circle cx="651.4" cy="3082" r="16.8" fill="none" stroke="#000" stroke-width="4.7"/>
<circle cx="692.3" cy="3053.7" r="16.8" fill="none" stroke="#000" stroke-width="4.7"/>
<circle cx="733.2" cy="3025.3" r="16.8" fill="none" stroke="#000" stroke-width="4.7"/>
<circle cx="937.6" cy="2907.5" r="16.8" fill="none" stroke="#000" stroke-width="4.7"/>
<circle cx="1142.1" cy="2837.3" r="16.8" fill="none" stroke="#000" stroke-width="4.7"/>
<circle cx="1346.5" cy="2758.2" r="16.8" fill="none" stroke="#000" stroke-width="4.7"/>
<circle cx="1551" cy="2673.3" r="16.8" fill="none" stroke="#000" stroke-width="4.7"/>
<circle cx="1755.4" cy="2598.8" r="16.8" fill="none" stroke="#000" stroke-width="4.7"/>
<circle cx="1959.9" cy="2539" r="16.8" fill="none" stroke="#000" stroke-width="4.7"/>
<circle cx="2164.3" cy="2483.9" r="16.8" fill="none" stroke="#000" stroke-width="4.7"/>
<path d="M324.3 2673.2H2164.3" stroke="#00ff00" stroke-width="5.5"/>
<circle cx="528.7" cy="3104.5" r="22.5" fill="#0000ff" stroke="#ff0000" stroke-width="8.7"/>
<circle cx="569.6" cy="3071.8" r="22.5" fill="#0000ff" stroke="#ff0000" stroke-width="8.7"/>
<circle cx="610.5" cy="3032.6" r="22.5" fill="#0000ff" stroke="#ff0000" stroke-width="8.7"/>
<circle cx="651.4" cy="2989.3" r="22.5" fill="#0000ff" stroke="#ff0000" stroke-width="8.7"/>
<circle cx="692.3" cy="2927.3" r="22.5" fill="#0000ff" stroke="#ff0000" stroke-width="8.7"/>
<circle cx="733.2" cy="2857.1" r="22.5" fill="#0000ff" stroke="#ff0000" stroke-width="8.7"/>
<path d="M295 3444.3L351.6 3444.3M303.3 3424.3L343.3 3464.3M323.3 3416L323.3 3472.6M343.3 3424.3L303.3 3464.3" stroke="#0000ff" stroke-width="5.8" fill="none"/>
<path d="M335.9 3346.7L392.5 3346.7M344.2 3326.7L384.2 3366.7M364.2 3318.4L364.2 3375M384.2 3326.7L344.2 3366.7" stroke="#0000ff" stroke-width="5.8" fill="none"/>
<path d="M376.8 3231.1L433.4 3231.1M385.1 3211.1L425.1 3251.1M405.1 3202.8L405.1 3259.3M425.1 3211.1L385.1 3251.1" stroke="#0000ff" stroke-width="5.8" fill="none"/>
<path d="M417.7 3220.7L474.2 3220.7M426 3200.7L466 3240.7M446 3192.5L446 3249M466 3200.7L426 3240.7" stroke="#0000ff" stroke-width="5.8" fill="none"/>
<path d="M458.6 3202.7L515.1 3202.7M466.9 3182.7L506.9 3222.7M486.9 3174.4L486.9 3231M506.9 3182.7L466.9 3222.7" stroke="#0000ff" stroke-width="5.8" fill="none"/>
<path d="M499.5 3186.4L556 3186.4M507.7 3166.4L547.7 3206.3M527.7 3158.1L527.7 3214.6M547.7 3166.4L507.7 3206.3" stroke="#0000ff" stroke-width="5.8" fill="none"/>
<g font-family='"Liberation Sans", "DejaVu Sans", sans-serif' font-weight="bold" fill="#262626">
<text transform="translate(324.3 3538.1) scale(1 1.03)" font-size="67.7" text-anchor="middle">0</text>
<text transform="translate(528.7 3538.1) scale(1 1.03)" font-size="67.7" text-anchor="middle">50</text>
<text transform="translate(733.2 3538.1) scale(1 1.03)" font-size="67.7" text-anchor="middle">100</text>
<text transform="translate(937.6 3538.1) scale(1 1.03)" font-size="67.7" text-anchor="middle">150</text>
<text transform="translate(1142.1 3538.1) scale(1 1.03)" font-size="67.7" text-anchor="middle">200</text>
<text transform="translate(1346.5 3538.1) scale(1 1.03)" font-size="67.7" text-anchor="middle">250</text>
<text transform="translate(1551 3538.1) scale(1 1.03)" font-size="67.7" text-anchor="middle">300</text>
<text transform="translate(1755.4 3538.1) scale(1 1.03)" font-size="67.7" text-anchor="middle">350</text>
<text transform="translate(1959.9 3538.1) scale(1 1.03)" font-size="67.7" text-anchor="middle">400</text>
<text transform="translate(2164.3 3538.1) scale(1 1.03)" font-size="67.7" text-anchor="middle">450</text>
<text transform="translate(297.2 3470) scale(1 1.03)" font-size="67.7" text-anchor="end">0</text>
<text transform="translate(297.2 3229.6) scale(1 1.03)" font-size="67.7" text-anchor="end">1000</text>
<text transform="translate(297.2 2989.2) scale(1 1.03)" font-size="67.7" text-anchor="end">2000</text>
<text transform="translate(297.2 2748.8) scale(1 1.03)" font-size="67.7" text-anchor="end">3000</text>
<text transform="translate(297.2 2508.4) scale(1 1.03)" font-size="67.7" text-anchor="end">4000</text>
<text transform="translate(297.2 2268) scale(1 1.03)" font-size="67.7" text-anchor="end">5000</text>
<text transform="translate(297.2 2027.6) scale(1 1.03)" font-size="67.7" text-anchor="end">6000</text>
<text transform="translate(1244.3 3635) scale(1 1.05)" font-size="74.5" text-anchor="middle">Cumulative Impact Energy (J)</text>
<text transform="translate(113 2721.3) rotate(-90) scale(1 1.05)" font-size="74.5" text-anchor="middle">Damage Area (mm<tspan font-size="59.6" dy="-33.5">2</tspan><tspan dy="33.5">)</tspan></text>
<text transform="translate(1244.3 1979.1) scale(1 1.05)" font-size="74.5" text-anchor="middle" fill="#000">(b) N = 50J</text>
</g>
<rect x="1359.1" y="2045.6" width="761.9" height="408.3" fill="#fff" stroke="#262626" stroke-width="3"/>
<path d="M1432.7 2093.4L1489.3 2093.4M1441 2073.4L1481 2113.4M1461 2065.1L1461 2121.7M1481 2073.4L1441 2113.4" stroke="#0000ff" stroke-width="5.8" fill="none"/>
<circle cx="1461" cy="2171.4" r="22.5" fill="#0000ff" stroke="#ff0000" stroke-width="8.7"/>
<path d="M1376.6 2249.2H1546.4" stroke="#ff0000" stroke-width="11" stroke-dasharray="10.5 12.1"/>
<path d="M1376.6 2328.1H1546.4" stroke="#00ff00" stroke-width="5.5"/>
<path d="M1376.6 2408.2H1546.4" stroke="#000" stroke-width="4.7"/>
<circle cx="1461" cy="2408.2" r="16.8" fill="none" stroke="#000" stroke-width="4.7"/>
<g font-family='"Liberation Sans", "DejaVu Sans", sans-serif' font-weight="bold" fill="#000" font-size="60.9">
<text transform="translate(1557.9 2117.4) scale(1 1.05)">Measurement Data</text>
<text transform="translate(1557.9 2197.9) scale(1 1.05)">Median</text>
<text transform="translate(1557.9 2276.1) scale(1 1.05)">90% PI</text>
<text transform="translate(1557.9 2355) scale(1 1.05)">Threshold</text>
<text transform="translate(1557.9 2433.1) scale(1 1.05)">Actual Data</text>
</g>
</svg>
</body>
</html>
